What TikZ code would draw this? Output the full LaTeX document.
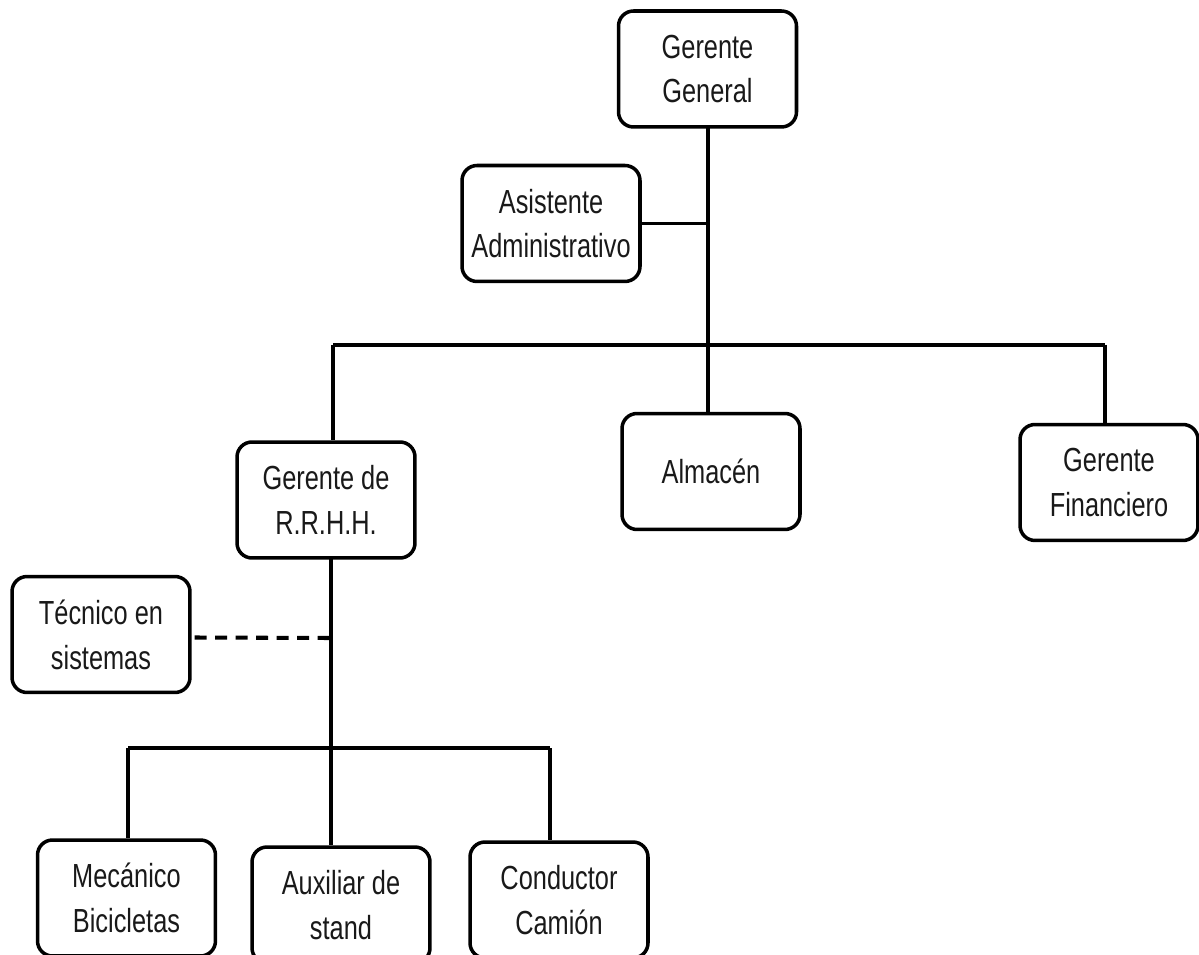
\documentclass[tikz,border=0pt]{standalone}
\usepackage{fontspec}
\newfontfamily\boxfont{Liberation Sans}[FakeStretch=0.76]
\begin{document}
\begin{tikzpicture}[x=0.02cm,y=-0.02cm,
  org/.style={draw, line width=2pt, rounded corners=0.3cm,
    minimum width=3.56cm, minimum height=2.32cm, align=center,
    inner sep=0pt, text=black!90,
    font=\boxfont\fontsize{19}{25.5}\selectfont},
  link/.style={line width=2.1pt},
  dlink/.style={line width=2.3pt, dash pattern=on 0.24cm off 0.17cm}]
\useasboundingbox (0,0) rectangle (1199,955);
\clip (0,0) rectangle (1199,955);
\node[org] (gg)   at (707.5,69)  {Gerente\\General};
\node[org] (asis) at (551,223.5) {Asistente\\Administrativo};
\node[org] (alm)  at (711,471.5) {Almacén};
\node[org] (rrhh) at (326,500)   {Gerente de\\R.R.H.H.};
\node[org] (fin)  at (1109,482.5){Gerente\\Financiero};
\node[org] (tec)  at (101,634.5) {Técnico en\\sistemas};
\node[org] (mec)  at (126.5,898) {Mecánico\\Bicicletas};
\node[org] (aux)  at (341,905)   {Auxiliar de\\stand};
\node[org] (con)  at (559,900)   {Conductor\\Camión};
\coordinate (top) at (708,128);
\coordinate (b1) at (333,345);
\coordinate (b2) at (1105,345);
\coordinate (r) at (331,558);
\coordinate (c1) at (128,748);
\coordinate (c2) at (550,748);
\coordinate (dashend) at (330,638);
\draw[link] (top) -- (top |- alm.north);
\draw[link] (asis.east) -- (asis.east -| top);
\draw[link] (b1) -- (b2);
\draw[link] (b1) -- (b1 |- rrhh.north);
\draw[link] (b2) -- (b2 |- fin.north);
\draw[link] (r) -- (r |- aux.north);
\draw[link] (c1) -- (c2);
\draw[link] (c1) -- (c1 |- mec.north);
\draw[link] (c2) -- (c2 |- con.north);
\draw[dlink] (tec.east) ++(3,3) -- (dashend);
\end{tikzpicture}
\end{document}
